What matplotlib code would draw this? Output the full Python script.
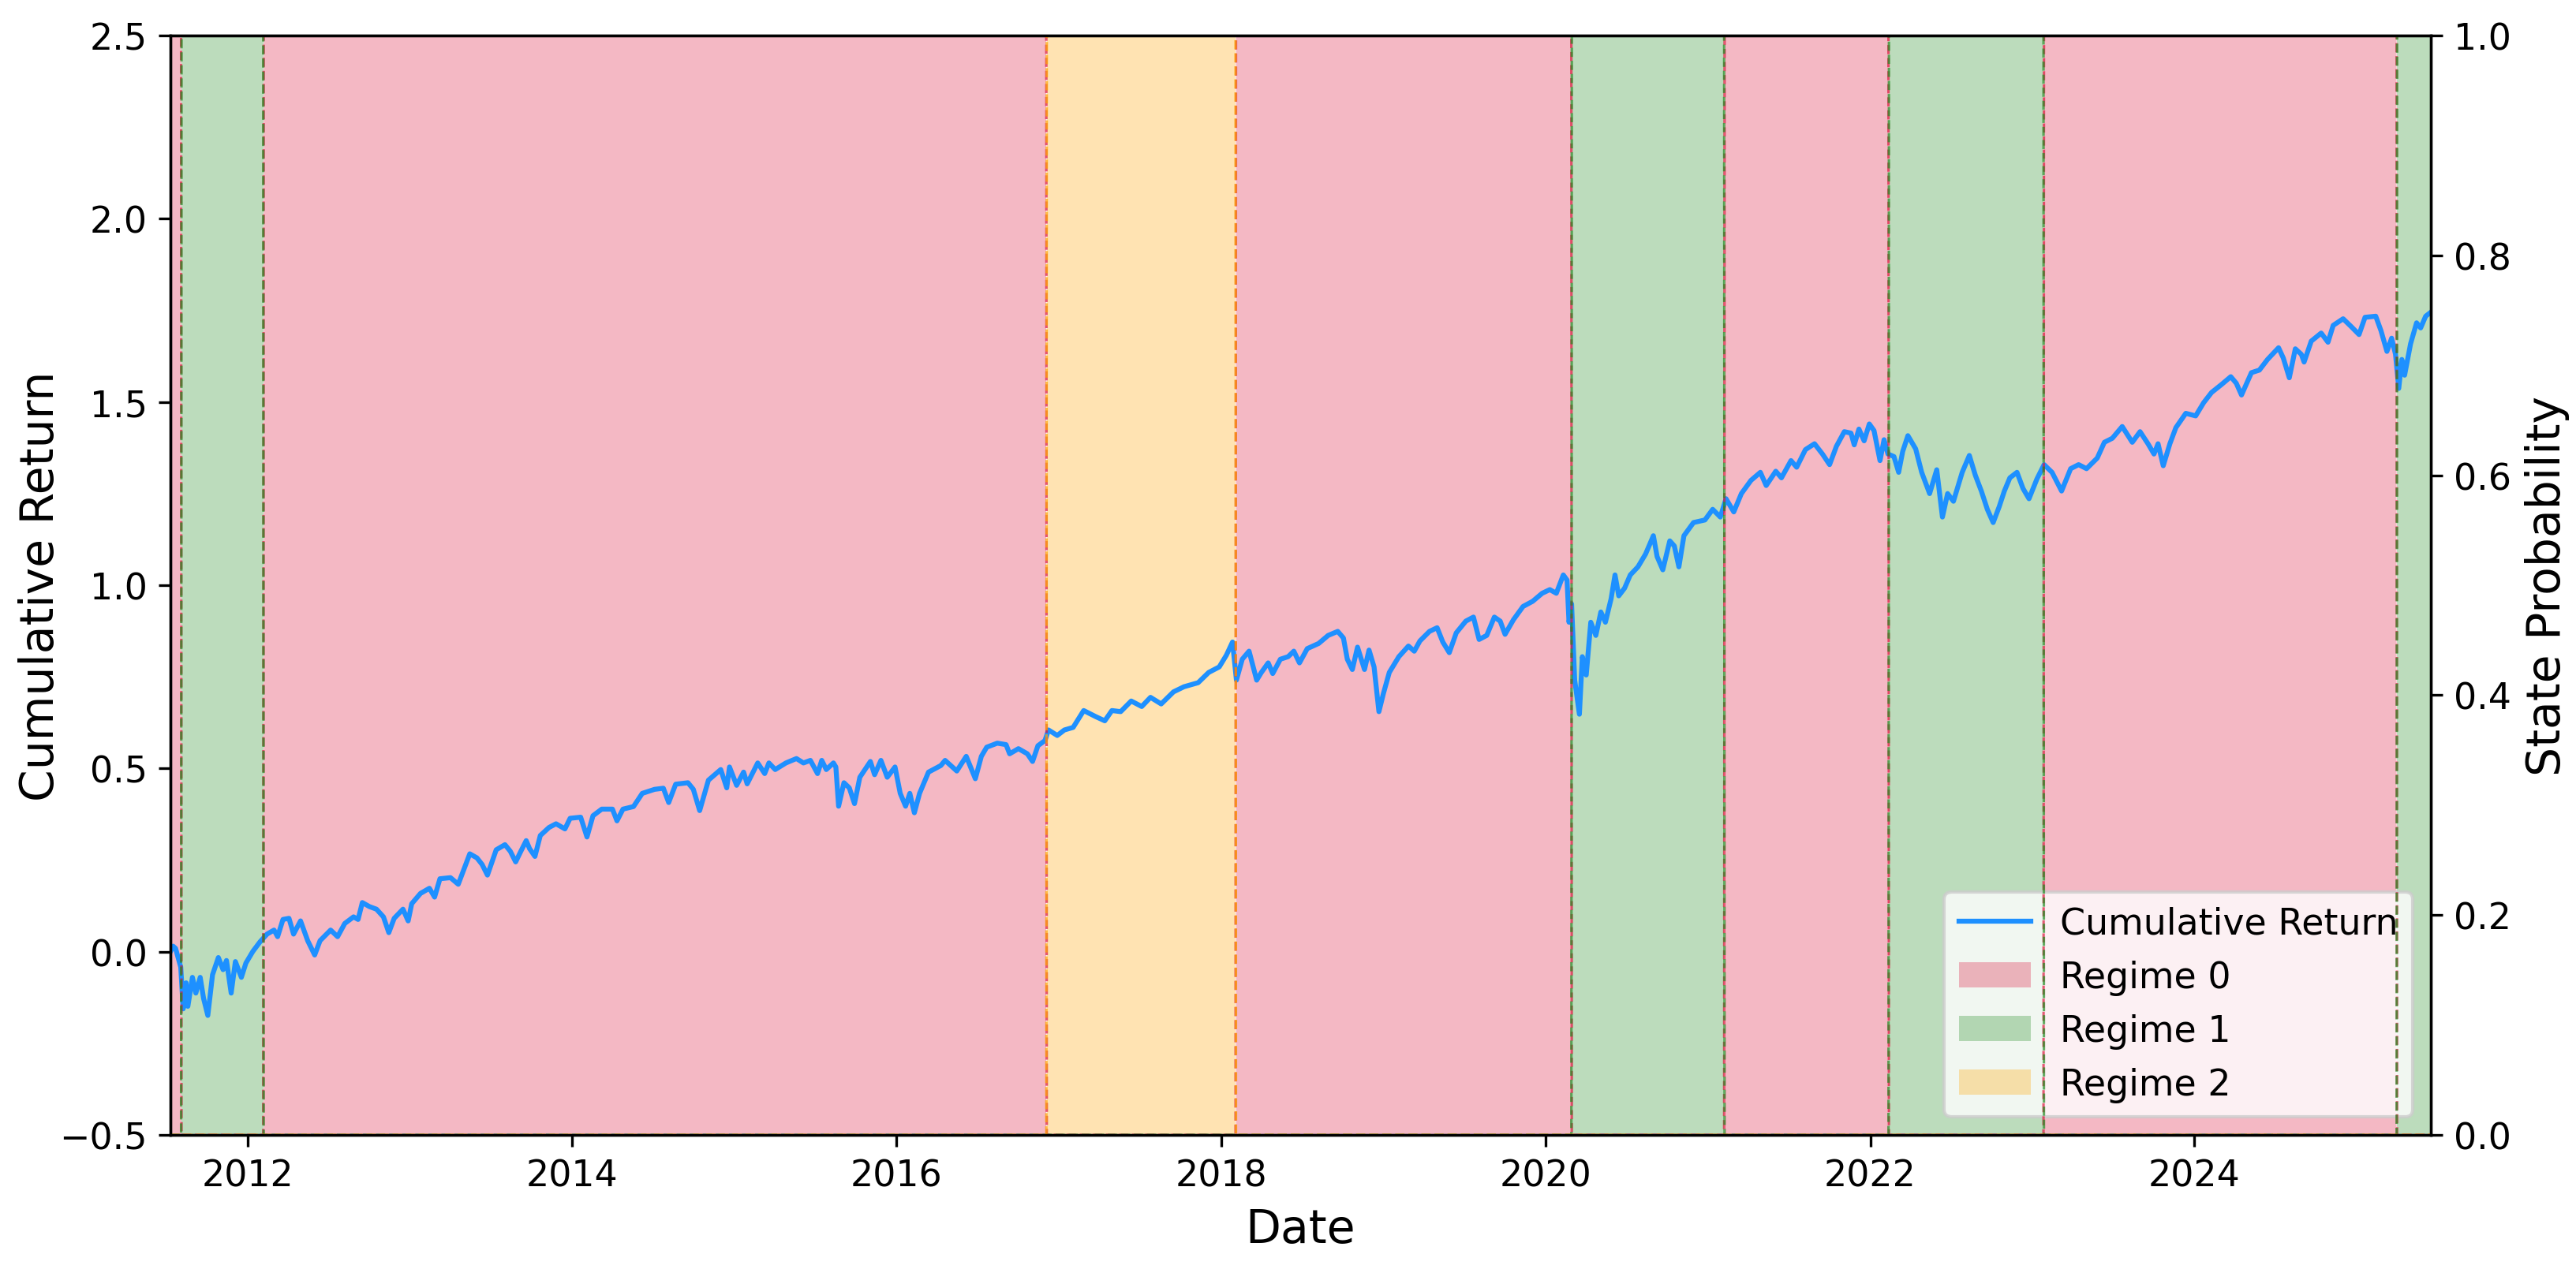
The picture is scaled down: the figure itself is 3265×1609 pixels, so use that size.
import numpy as np
import pandas as pd
import matplotlib
matplotlib.use("Agg")
import matplotlib.pyplot as plt


seg_start = [2011.524, 2011.590, 2012.097, 2016.922, 2018.090,
             2020.160, 2021.100, 2022.113, 2023.070, 2025.245]
seg_regime = [0, 1, 0, 2, 0, 1, 0, 1, 0, 1]
end_year = 2025.455

regime_colors = ["crimson", "forestgreen", "orange"]
regime_names = ["Regime 0", "Regime 1", "Regime 2"]

# cumulative return, (decimal year, value)
ret_years = [
    2011.524, 2011.540, 2011.555, 2011.587, 2011.602, 2011.620, 2011.631, 2011.659,
    2011.680, 2011.707, 2011.728, 2011.754, 2011.783, 2011.819, 2011.848, 2011.869,
    2011.898, 2011.924, 2011.961, 2011.989, 2012.032, 2012.076, 2012.119, 2012.162,
    2012.184, 2012.217, 2012.254, 2012.282, 2012.325, 2012.369, 2012.412, 2012.445,
    2012.510, 2012.553, 2012.597, 2012.651, 2012.679, 2012.705, 2012.749, 2012.792,
    2012.835, 2012.868, 2012.901, 2012.955, 2012.987, 2013.009, 2013.063, 2013.118,
    2013.150, 2013.183, 2013.248, 2013.296, 2013.324, 2013.367, 2013.411, 2013.443,
    2013.476, 2013.530, 2013.584, 2013.617, 2013.650, 2013.682, 2013.715, 2013.736,
    2013.769, 2013.802, 2013.856, 2013.899, 2013.954, 2013.986, 2014.051, 2014.090,
    2014.127, 2014.181, 2014.247, 2014.275, 2014.312, 2014.377, 2014.431, 2014.507,
    2014.561, 2014.594, 2014.637, 2014.713, 2014.746, 2014.785, 2014.839, 2014.915,
    2014.952, 2014.969, 2015.013, 2015.056, 2015.078, 2015.143, 2015.186, 2015.212,
    2015.251, 2015.317, 2015.382, 2015.425, 2015.468, 2015.512, 2015.538, 2015.566,
    2015.610, 2015.625, 2015.642, 2015.675, 2015.708, 2015.740, 2015.773, 2015.838,
    2015.864, 2015.903, 2015.942, 2015.990, 2016.022, 2016.055, 2016.081, 2016.109,
    2016.141, 2016.196, 2016.272, 2016.298, 2016.370, 2016.428, 2016.484, 2016.521,
    2016.554, 2016.619, 2016.673, 2016.695, 2016.749, 2016.804, 2016.836, 2016.869,
    2016.912, 2016.934, 2016.988, 2017.032, 2017.086, 2017.151, 2017.227, 2017.281,
    2017.325, 2017.379, 2017.444, 2017.509, 2017.563, 2017.629, 2017.705, 2017.770,
    2017.857, 2017.922, 2017.987, 2018.031, 2018.069, 2018.093, 2018.129, 2018.171,
    2018.218, 2018.247, 2018.289, 2018.317, 2018.364, 2018.412, 2018.447, 2018.482,
    2018.530, 2018.600, 2018.659, 2018.718, 2018.753, 2018.777, 2018.808, 2018.840,
    2018.883, 2018.911, 2018.942, 2018.972, 2019.000, 2019.036, 2019.095, 2019.154,
    2019.190, 2019.225, 2019.284, 2019.331, 2019.366, 2019.406, 2019.449, 2019.508,
    2019.555, 2019.590, 2019.637, 2019.684, 2019.720, 2019.750, 2019.802, 2019.861,
    2019.920, 2019.979, 2020.026, 2020.066, 2020.109, 2020.132, 2020.144, 2020.160,
    2020.179, 2020.208, 2020.226, 2020.250, 2020.278, 2020.309, 2020.340, 2020.368,
    2020.403, 2020.427, 2020.450, 2020.486, 2020.521, 2020.568, 2020.615, 2020.663,
    2020.686, 2020.721, 2020.764, 2020.792, 2020.820, 2020.851, 2020.910, 2020.980,
    2021.028, 2021.075, 2021.110, 2021.158, 2021.205, 2021.264, 2021.322, 2021.358,
    2021.417, 2021.452, 2021.511, 2021.546, 2021.600, 2021.656, 2021.705, 2021.749,
    2021.791, 2021.840, 2021.881, 2021.901, 2021.930, 2021.962, 2021.994, 2022.023,
    2022.060, 2022.085, 2022.109, 2022.146, 2022.175, 2022.200, 2022.232, 2022.280,
    2022.317, 2022.366, 2022.410, 2022.445, 2022.477, 2022.513, 2022.567, 2022.611,
    2022.648, 2022.685, 2022.722, 2022.758, 2022.795, 2022.827, 2022.861, 2022.905,
    2022.942, 2022.979, 2023.028, 2023.072, 2023.121, 2023.180, 2023.236, 2023.285,
    2023.334, 2023.400, 2023.444, 2023.493, 2023.554, 2023.616, 2023.664, 2023.713,
    2023.750, 2023.775, 2023.807, 2023.848, 2023.885, 2023.946, 2024.007, 2024.056,
    2024.105, 2024.167, 2024.223, 2024.257, 2024.289, 2024.350, 2024.399, 2024.449,
    2024.517, 2024.546, 2024.583, 2024.620, 2024.657, 2024.674, 2024.718, 2024.779,
    2024.821, 2024.853, 2024.914, 2024.963, 2025.012, 2025.049, 2025.115, 2025.147,
    2025.184, 2025.213, 2025.237, 2025.257, 2025.276, 2025.293, 2025.330, 2025.367,
    2025.392, 2025.423, 2025.455,
]
ret_values = [
    0.001, 0.015, 0.009, -0.042, -0.156, -0.085, -0.149, -0.070,
    -0.113, -0.070, -0.128, -0.174, -0.063, -0.016, -0.049, -0.024,
    -0.113, -0.027, -0.070, -0.031, 0.001, 0.027, 0.048, 0.059,
    0.041, 0.088, 0.091, 0.048, 0.084, 0.030, -0.009, 0.030,
    0.059, 0.041, 0.077, 0.095, 0.088, 0.134, 0.123, 0.116,
    0.095, 0.052, 0.091, 0.116, 0.084, 0.131, 0.159, 0.173,
    0.149, 0.199, 0.202, 0.184, 0.217, 0.267, 0.256, 0.238,
    0.209, 0.278, 0.292, 0.274, 0.245, 0.274, 0.303, 0.281,
    0.260, 0.317, 0.339, 0.349, 0.335, 0.364, 0.367, 0.313,
    0.371, 0.389, 0.389, 0.357, 0.389, 0.396, 0.432, 0.443,
    0.446, 0.407, 0.457, 0.461, 0.443, 0.385, 0.468, 0.497,
    0.447, 0.504, 0.454, 0.490, 0.458, 0.515, 0.486, 0.515,
    0.497, 0.515, 0.527, 0.515, 0.522, 0.486, 0.522, 0.497,
    0.515, 0.504, 0.397, 0.461, 0.447, 0.404, 0.476, 0.519,
    0.483, 0.522, 0.476, 0.504, 0.432, 0.397, 0.432, 0.379,
    0.432, 0.490, 0.508, 0.522, 0.493, 0.533, 0.472, 0.533,
    0.558, 0.569, 0.565, 0.540, 0.554, 0.540, 0.519, 0.562,
    0.576, 0.605, 0.590, 0.605, 0.612, 0.658, 0.641, 0.630,
    0.658, 0.655, 0.684, 0.669, 0.694, 0.676, 0.709, 0.723,
    0.734, 0.762, 0.777, 0.809, 0.845, 0.741, 0.798, 0.820,
    0.741, 0.762, 0.788, 0.759, 0.798, 0.805, 0.820, 0.788,
    0.827, 0.841, 0.863, 0.874, 0.856, 0.798, 0.770, 0.831,
    0.770, 0.823, 0.777, 0.655, 0.705, 0.762, 0.805, 0.834,
    0.820, 0.848, 0.874, 0.884, 0.845, 0.816, 0.870, 0.902,
    0.913, 0.852, 0.863, 0.913, 0.902, 0.866, 0.906, 0.942,
    0.956, 0.978, 0.988, 0.978, 1.028, 1.014, 0.899, 0.949,
    0.741, 0.648, 0.805, 0.755, 0.899, 0.863, 0.927, 0.899,
    0.963, 1.028, 0.971, 0.992, 1.028, 1.050, 1.085, 1.135,
    1.078, 1.042, 1.121, 1.107, 1.050, 1.135, 1.171, 1.178,
    1.207, 1.186, 1.236, 1.200, 1.250, 1.286, 1.308, 1.272,
    1.311, 1.293, 1.340, 1.322, 1.370, 1.386, 1.358, 1.329,
    1.379, 1.419, 1.415, 1.383, 1.426, 1.394, 1.440, 1.422,
    1.340, 1.397, 1.358, 1.351, 1.308, 1.365, 1.408, 1.372,
    1.308, 1.250, 1.315, 1.186, 1.250, 1.229, 1.308, 1.354,
    1.300, 1.257, 1.207, 1.171, 1.214, 1.257, 1.293, 1.308,
    1.264, 1.236, 1.290, 1.329, 1.308, 1.257, 1.318, 1.329,
    1.318, 1.347, 1.390, 1.401, 1.433, 1.390, 1.419, 1.386,
    1.358, 1.386, 1.326, 1.386, 1.430, 1.469, 1.462, 1.498,
    1.526, 1.548, 1.569, 1.551, 1.519, 1.580, 1.587, 1.616,
    1.648, 1.620, 1.566, 1.645, 1.630, 1.609, 1.666, 1.688,
    1.663, 1.709, 1.727, 1.706, 1.684, 1.731, 1.734, 1.695,
    1.638, 1.674, 1.630, 1.537, 1.616, 1.573, 1.659, 1.716,
    1.702, 1.734, 1.745,
]


def to_date(y):
    year = int(y)
    start = pd.Timestamp(year=year, month=1, day=1)
    nxt = pd.Timestamp(year=year + 1, month=1, day=1)
    return start + (nxt - start) * (y - year)


ret_dates = [to_date(y) for y in ret_years]
start_dates = pd.DatetimeIndex([to_date(y) for y in seg_start])
end_date = to_date(end_year)

# daily calendar with the regime of each day
days = pd.date_range(start_dates[0].normalize(), end_date.normalize(), freq="D")
idx = np.searchsorted(start_dates.values, days.values, side="right") - 1
idx = np.clip(idx, 0, len(seg_regime) - 1)
states = np.array(seg_regime)[idx]

fig = plt.figure(figsize=(3265 / 300, 1610 / 300), dpi=300)
ax = fig.add_subplot()
fig.subplots_adjust(left=216 / 3265, right=3081 / 3265,
                    bottom=1 - 1440 / 1610, top=1 - 46 / 1610)

ax.plot(ret_dates, ret_values, color="dodgerblue", lw=1.5, label="Cumulative Return")
for i in range(3):
    ax.fill_between(days, 0, 1, where=states == i, transform=ax.get_xaxis_transform(),
                    color=regime_colors[i], alpha=0.3, lw=0, label=regime_names[i])

ax.set_ylim(-0.5, 2.5)
ax.set_xlim(days[0], days[-1])
ax.set_xlabel("Date", fontsize=14)
ax.set_ylabel("Cumulative Return", fontsize=14, labelpad=-1)
ax.tick_params(labelsize=11)
ax.legend(loc="lower right", fontsize=11)

ax2 = ax.twinx()
for i in range(3):
    ax2.plot(days, (states == i).astype(float), "--", color=regime_colors[i],
             alpha=0.7, lw=0.75)
ax2.set_ylim(0, 1)
ax2.set_ylabel("State Probability", fontsize=14)
ax2.tick_params(labelsize=11)

fig.savefig("out.png", dpi=300)
